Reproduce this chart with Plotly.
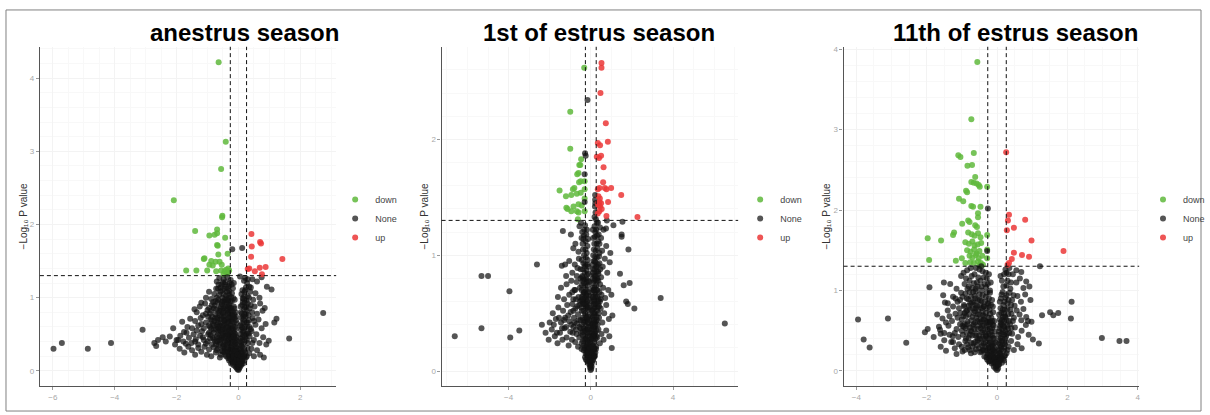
import plotly.graph_objects as go

# ---- thresholds -------------------------------------------------------------
FC_CUT = 0.263     # |log2 fold change| cut-off
P_CUT = 1.301      # -log10(0.05)

# ---- anestrus season --------------------------------------------------------
anestrus_down = [
    (-0.64, 4.22), (-0.41, 3.13), (-0.56, 2.76), (-2.09, 2.33), (-0.52, 2.12), (-0.53, 2.10),
    (-1.40, 1.91), (-0.69, 1.93), (-0.69, 1.88), (-0.94, 1.85), (-0.77, 1.86), (-0.43, 1.82),
    (-0.69, 1.72), (-0.67, 1.71), (-0.35, 1.60), (-0.65, 1.59), (-1.10, 1.54), (-1.12, 1.53),
    (-0.88, 1.50), (-0.94, 1.45), (-0.74, 1.49), (-0.61, 1.49), (-0.54, 1.45), (-0.83, 1.44),
    (-1.01, 1.37), (-0.72, 1.36), (-1.69, 1.37), (-1.36, 1.37), (-0.45, 1.36), (-0.40, 1.38),
    (-0.35, 1.34), (-0.30, 1.37), (-0.38, 1.33), (-0.56, 1.37), (-0.33, 1.40), (-0.48, 1.32),
]
anestrus_up = [
    (0.42, 1.87), (0.70, 1.76), (0.73, 1.74), (0.43, 1.70), (0.41, 1.56), (1.42, 1.53),
    (0.30, 1.39), (0.35, 1.40), (0.53, 1.36), (0.69, 1.41), (0.88, 1.42), (0.76, 1.32),
]
anestrus_none = [
    (-5.98, 0.30), (-5.71, 0.38), (-4.87, 0.30), (-4.12, 0.38), (-3.10, 0.56), (-2.72, 0.38),
    (-2.66, 0.34), (-2.60, 0.42), (-2.45, 0.46), (-2.35, 0.40), (-2.22, 0.47), (-2.11, 0.58),
    (-2.05, 0.36), (-1.95, 0.42), (-1.82, 0.67), (-1.76, 0.53), (-1.70, 0.37), (-1.56, 0.71),
    (-1.42, 0.84), (-1.20, 0.93), (2.74, 0.79), (1.64, 0.44), (0.82, 0.18), (0.98, 0.41),
    (1.16, 0.66), (1.23, 0.71), (1.07, 1.11), (0.92, 1.15), (0.85, 0.86), (-0.20, 1.66),
    (0.12, 1.68),
    (-0.70, 1.22), (-0.62, 1.27), (-0.55, 1.18), (-0.48, 1.25), (-0.42, 1.21), (-0.36, 1.28),
    (-0.30, 1.16), (-0.25, 1.24), (-0.66, 1.12), (-0.15, 1.20), (0.22, 1.27), (0.28, 1.20),
    (0.35, 1.15), (0.45, 1.25), (0.60, 1.22), (0.75, 1.28), (0.05, 1.29), (0.18, 1.23),
    (-1.05, 1.00), (-0.95, 1.08), (-0.88, 0.98), (-0.78, 1.05), (-0.72, 1.12), (-0.65, 0.97),
    (-0.58, 1.08), (-0.52, 1.00), (-0.46, 1.12), (-0.40, 1.03), (-0.35, 0.96), (-0.30, 1.09),
    (-0.24, 1.01), (-0.18, 1.13), (-0.12, 0.97), (0.10, 1.05), (0.16, 0.98), (0.22, 1.10),
    (0.30, 1.02), (0.38, 1.08), (0.48, 0.97), (0.55, 1.06), (0.68, 1.00), (0.40, 1.14),
    (-1.35, 0.80), (-1.25, 0.88), (-1.15, 0.76), (-1.08, 0.92), (-1.00, 0.83), (-0.92, 0.78),
    (-0.86, 0.90), (-0.80, 0.85), (-0.74, 0.77), (-0.68, 0.93), (-0.62, 0.82), (-0.56, 0.88),
    (-0.50, 0.79), (-0.45, 0.94), (-0.40, 0.85), (-0.35, 0.78), (-0.30, 0.90), (-0.25, 0.82),
    (-0.20, 0.76), (-0.15, 0.88), (-0.10, 0.80), (-0.60, 0.76), (-0.48, 0.86), (-0.38, 0.92),
    (-0.33, 0.80), (-0.28, 0.86), (0.08, 0.80), (0.12, 0.90), (0.18, 0.84), (0.24, 0.78),
    (0.30, 0.92), (0.36, 0.85), (0.44, 0.80), (0.52, 0.88), (0.60, 0.78), (0.70, 0.92),
    (0.78, 0.82), (0.20, 0.93),
    (-1.65, 0.60), (-1.50, 0.58), (-1.40, 0.68), (-1.30, 0.62), (-1.22, 0.72), (-1.12, 0.58),
    (-1.05, 0.66), (-0.98, 0.74), (-0.92, 0.60), (-0.86, 0.68), (-0.80, 0.56), (-0.75, 0.72),
    (-0.70, 0.63), (-0.64, 0.58), (-0.58, 0.70), (-0.53, 0.62), (-0.48, 0.74), (-0.43, 0.57),
    (-0.38, 0.66), (-0.33, 0.72), (-0.28, 0.59), (-0.23, 0.68), (-0.18, 0.62), (-0.13, 0.72),
    (-0.09, 0.57), (-0.06, 0.65), (-0.90, 0.70), (-0.66, 0.66), (-0.52, 0.56), (-0.45, 0.68),
    (-0.36, 0.60), (-0.26, 0.73), (-0.16, 0.56), (-0.20, 0.70), (0.06, 0.62), (0.10, 0.72),
    (0.14, 0.58), (0.18, 0.66), (0.23, 0.74), (0.28, 0.60), (0.33, 0.69), (0.40, 0.57),
    (0.46, 0.72), (0.55, 0.63), (0.65, 0.70), (0.75, 0.58), (0.88, 0.64), (0.26, 0.66),
    (-2.00, 0.42), (-1.88, 0.48), (-1.78, 0.40), (-1.68, 0.52), (-1.60, 0.45), (-1.52, 0.38),
    (-1.45, 0.50), (-1.38, 0.43), (-1.30, 0.36), (-1.24, 0.48), (-1.18, 0.54), (-1.12, 0.42),
    (-1.05, 0.37), (-0.98, 0.50), (-0.92, 0.44), (-0.86, 0.36), (-0.80, 0.52), (-0.75, 0.40),
    (-0.70, 0.47), (-0.64, 0.54), (-0.59, 0.38), (-0.54, 0.45), (-0.49, 0.51), (-0.44, 0.40),
    (-0.40, 0.48), (-0.35, 0.36), (-0.30, 0.44), (-0.26, 0.52), (-0.22, 0.38), (-0.18, 0.46),
    (-0.14, 0.40), (-0.10, 0.50), (-0.07, 0.42), (-0.04, 0.36), (-1.00, 0.40), (-0.95, 0.52),
    (-0.83, 0.45), (-0.72, 0.36), (-0.62, 0.46), (-0.56, 0.53), (-0.47, 0.36), (-0.38, 0.53),
    (-0.33, 0.42), (-0.24, 0.45), (-0.16, 0.52), (-0.12, 0.36), (0.04, 0.40), (0.07, 0.50),
    (0.10, 0.38), (0.13, 0.46), (0.17, 0.54), (0.20, 0.42), (0.25, 0.50), (0.30, 0.38),
    (0.36, 0.47), (0.42, 0.54), (0.50, 0.42), (0.58, 0.50), (0.68, 0.38), (0.80, 0.46),
    (0.90, 0.36), (0.15, 0.36),
    (-1.90, 0.30), (-1.75, 0.25), (-1.62, 0.33), (-1.50, 0.28), (-1.40, 0.22), (-1.30, 0.31),
    (-1.20, 0.26), (-1.10, 0.33), (-1.02, 0.22), (-0.95, 0.29), (-0.88, 0.20), (-0.80, 0.32),
    (-0.73, 0.25), (-0.66, 0.30), (-0.60, 0.18), (-0.54, 0.27), (-0.48, 0.33), (-0.43, 0.22),
    (-0.38, 0.29), (-0.33, 0.17), (-0.29, 0.25), (-0.25, 0.32), (-0.21, 0.20), (-0.17, 0.28),
    (-0.14, 0.16), (-0.11, 0.24), (-0.08, 0.31), (-0.05, 0.19), (-0.03, 0.27), (0.02, 0.22),
    (0.04, 0.30), (0.06, 0.16), (0.09, 0.25), (0.12, 0.33), (0.15, 0.20), (0.19, 0.28),
    (0.24, 0.18), (0.29, 0.31), (0.35, 0.24), (0.42, 0.30), (0.50, 0.20), (0.60, 0.28),
    (0.70, 0.22),
    (-0.30, 0.14), (-0.24, 0.10), (-0.20, 0.13), (-0.16, 0.08), (-0.13, 0.12), (-0.10, 0.06),
    (-0.08, 0.10), (-0.06, 0.04), (-0.04, 0.08), (-0.03, 0.02), (-0.02, 0.12), (-0.01, 0.05),
    (0.00, 0.01), (0.01, 0.07), (0.02, 0.03), (0.03, 0.10), (0.05, 0.05), (0.07, 0.12),
    (0.09, 0.08), (0.12, 0.13), (0.15, 0.10), (0.19, 0.14), (0.00, 0.14), (-0.05, 0.13),
    (-0.58, 1.14), (-0.44, 1.18), (-0.34, 1.12), (-0.28, 1.20), (-0.50, 1.21), (0.24, 1.14),
    (0.30, 1.25), (0.20, 1.08), (-0.62, 1.04), (-0.55, 0.94), (-0.48, 1.05), (-0.43, 0.98),
    (-0.37, 1.08), (-0.32, 1.00), (-0.27, 0.94), (-0.21, 1.06), (-0.16, 0.99), (-0.70, 1.00),
    (-0.82, 0.94), (0.13, 1.10), (0.19, 1.02), (0.26, 0.96), (0.34, 1.00), (0.14, 0.94),
    (-0.95, 0.86), (-0.88, 0.82), (-0.77, 0.89), (-0.71, 0.84), (-0.65, 0.79), (-0.59, 0.86),
    (-0.53, 0.91), (-0.47, 0.81), (-0.42, 0.88), (-0.37, 0.83), (-0.32, 0.88), (-0.27, 0.79),
    (-0.23, 0.86), (-0.18, 0.81), (-0.13, 0.85), (-0.08, 0.74), (0.07, 0.88), (0.11, 0.78),
    (0.16, 0.74), (0.21, 0.87), (0.27, 0.82), (0.33, 0.76), (0.40, 0.90), (-1.05, 0.78),
    (-0.85, 0.74), (-0.68, 0.72),
    (-1.20, 0.64), (-0.96, 0.62), (-0.88, 0.57), (-0.82, 0.64), (-0.77, 0.68), (-0.72, 0.57),
    (-0.68, 0.70), (-0.61, 0.62), (-0.56, 0.66), (-0.50, 0.60), (-0.46, 0.63), (-0.41, 0.70),
    (-0.35, 0.65), (-0.31, 0.55), (-0.25, 0.62), (-0.21, 0.58), (-0.15, 0.66), (-0.11, 0.60),
    (-0.08, 0.69), (0.08, 0.56), (0.12, 0.65), (0.16, 0.70), (0.21, 0.60), (0.30, 0.66),
    (0.36, 0.60), (0.50, 0.68), (-1.35, 0.55),
    (-1.40, 0.40), (-1.15, 0.46), (-0.90, 0.49), (-0.78, 0.43), (-0.66, 0.50), (-0.61, 0.42),
    (-0.52, 0.48), (-0.46, 0.44), (-0.42, 0.52), (-0.37, 0.41), (-0.32, 0.49), (-0.28, 0.38),
    (-0.24, 0.50), (-0.20, 0.42), (-0.16, 0.48), (-0.12, 0.44), (-0.09, 0.38), (-0.06, 0.46),
    (0.06, 0.44), (0.09, 0.34), (0.12, 0.41), (0.16, 0.49), (0.22, 0.46), (0.27, 0.42),
    (0.33, 0.51), (0.45, 0.38),
    (-0.70, 0.28), (-0.57, 0.22), (-0.50, 0.26), (-0.45, 0.30), (-0.40, 0.20), (-0.35, 0.26),
    (-0.31, 0.21), (-0.27, 0.29), (-0.23, 0.24), (-0.19, 0.18), (-0.15, 0.23), (-0.12, 0.29),
    (-0.09, 0.18), (-0.07, 0.25), (-0.04, 0.21), (-0.02, 0.17), (0.01, 0.19), (0.03, 0.25),
    (0.05, 0.20), (0.08, 0.29), (0.11, 0.18), (0.14, 0.26), (0.18, 0.21), (0.22, 0.25),
    (0.27, 0.20), (-0.26, 0.16), (-0.18, 0.12), (-0.11, 0.15), (0.06, 0.14), (0.10, 0.10),
    (-0.52, 1.10), (-0.40, 1.15), (-0.30, 1.04), (-0.22, 1.18), (-0.64, 1.18),
    (-0.56, 0.82), (-0.50, 0.95), (-0.44, 0.76), (-0.39, 0.97), (-0.29, 0.73), (-0.22, 0.95),
    (-0.14, 0.77), (-0.74, 0.95),
    (-0.66, 0.60), (-0.59, 0.55), (-0.55, 0.74), (-0.47, 0.69), (-0.40, 0.59), (-0.30, 0.67),
    (-0.24, 0.56), (-0.17, 0.74), (-0.12, 0.51), (-0.80, 0.62),
    (-0.69, 0.40), (-0.63, 0.35), (-0.56, 0.42), (-0.50, 0.34), (-0.44, 0.47), (-0.38, 0.37),
    (-0.34, 0.50), (-0.27, 0.46), (-0.21, 0.34), (-0.14, 0.47), (-0.08, 0.33),
    (-0.44, 0.26), (-0.36, 0.32), (-0.28, 0.22), (-0.22, 0.30), (-0.16, 0.20), (-0.10, 0.27),
    (-0.06, 0.16), (-0.03, 0.22), (0.02, 0.15), (0.04, 0.09), (0.08, 0.20), (0.13, 0.16),
    (0.10, 0.60), (0.15, 0.53), (0.19, 0.77), (0.25, 0.88), (0.14, 0.99), (0.28, 0.52),
]

# ---- 1st of estrus season ---------------------------------------------------
estrus1_down = [
    (-0.32, 2.62), (-1.00, 2.24), (-1.00, 1.92), (-0.47, 1.83), (-0.56, 1.78), (-0.51, 1.78),
    (-0.60, 1.71), (-0.66, 1.70), (-0.49, 1.64), (-0.57, 1.63), (-0.87, 1.57), (-0.80, 1.58),
    (-1.52, 1.56), (-0.30, 1.57), (-1.21, 1.51), (-0.95, 1.52), (-0.68, 1.53), (-0.49, 1.54),
    (-0.30, 1.49), (-1.19, 1.41), (-1.13, 1.40), (-0.84, 1.42), (-0.60, 1.44), (-0.44, 1.43),
    (-0.95, 1.38), (-0.68, 1.38), (-0.60, 1.37), (-0.30, 1.38), (-0.63, 1.31), (-0.30, 1.64),
]
estrus1_up = [
    (0.52, 2.66), (0.52, 2.62), (0.47, 2.40), (0.73, 2.14), (0.34, 1.97), (0.45, 1.95),
    (0.83, 1.98), (0.29, 1.85), (0.40, 1.84), (0.50, 1.86), (0.62, 1.76), (0.60, 1.63),
    (0.42, 1.58), (0.34, 1.57), (0.68, 1.58), (0.76, 1.57), (0.99, 1.58), (1.48, 1.52),
    (0.37, 1.51), (0.44, 1.49), (0.42, 1.46), (0.34, 1.45), (0.50, 1.45), (0.84, 1.46),
    (0.37, 1.43), (0.45, 1.42), (0.42, 1.38), (0.34, 1.36), (0.76, 1.34), (2.27, 1.33),
    (0.53, 1.40),
]
estrus1_none = [
    (-6.62, 0.30), (-5.32, 0.37), (-5.32, 0.82), (-5.00, 0.82), (-3.96, 0.69), (-3.92, 0.29),
    (-3.48, 0.35), (-2.62, 0.92), (-2.38, 0.40), (6.52, 0.41), (3.40, 0.63), (2.12, 0.54),
    (1.83, 1.05), (1.54, 1.29), (1.50, 1.18), (1.50, 1.16), (1.42, 0.84), (1.60, 0.74),
    (1.89, 0.76), (1.72, 0.60), (1.80, 0.58), (1.02, 0.20), (0.78, 1.30), (-1.36, 1.21),
    (-0.97, 1.18), (-1.41, 0.91), (-1.25, 0.92), (-0.16, 2.34), (-0.28, 1.88), (-0.25, 1.86),
    (0.21, 1.52), (0.21, 1.48), (0.22, 1.45), (0.20, 1.42), (0.23, 1.37), (-0.30, 1.70),
    (-0.30, 1.46), (0.18, 1.33), (0.25, 1.31),
    (-0.75, 1.10), (-0.55, 1.25), (-0.45, 1.15), (-0.38, 1.05), (-0.32, 1.22), (-0.25, 1.12),
    (-0.20, 1.02), (-0.60, 1.03), (-0.85, 1.06), (-0.48, 1.28), (0.15, 1.05), (0.22, 1.20),
    (0.28, 1.10), (0.35, 1.28), (0.42, 1.02), (0.50, 1.15), (0.62, 1.22), (0.75, 1.08),
    (0.95, 1.02), (1.10, 1.26), (0.55, 1.04), (0.30, 1.17), (0.18, 1.25), (0.74, 1.23),
    (-1.20, 0.82), (-1.05, 0.95), (-0.90, 0.85), (-0.78, 0.92), (-0.68, 0.82), (-0.58, 0.97),
    (-0.50, 0.88), (-0.42, 0.81), (-0.36, 0.93), (-0.30, 0.85), (-0.24, 0.98), (-0.18, 0.83),
    (-0.12, 0.90), (-0.65, 0.89), (0.10, 0.85), (0.14, 0.95), (0.20, 0.82), (0.25, 0.90),
    (0.30, 0.98), (0.36, 0.86), (0.42, 0.93), (0.50, 0.81), (0.58, 0.90), (0.68, 0.97),
    (0.80, 0.85), (0.92, 0.94), (0.22, 0.99), (0.32, 0.80),
    (-1.60, 0.64), (-1.45, 0.72), (-1.30, 0.62), (-1.18, 0.75), (-1.05, 0.66), (-0.95, 0.78),
    (-0.85, 0.62), (-0.76, 0.70), (-0.68, 0.77), (-0.60, 0.64), (-0.53, 0.72), (-0.46, 0.61),
    (-0.40, 0.78), (-0.34, 0.68), (-0.28, 0.74), (-0.23, 0.62), (-0.18, 0.70), (-0.13, 0.78),
    (-0.09, 0.65), (-0.45, 0.70), (-0.30, 0.63), (-0.20, 0.77), (0.07, 0.68), (0.11, 0.76),
    (0.15, 0.62), (0.19, 0.72), (0.24, 0.66), (0.28, 0.78), (0.33, 0.70), (0.38, 0.62),
    (0.45, 0.75), (0.52, 0.66), (0.60, 0.72), (0.70, 0.63), (0.85, 0.70), (1.00, 0.66),
    (0.22, 0.79), (0.14, 0.70),
    (-2.00, 0.42), (-1.85, 0.50), (-1.70, 0.45), (-1.58, 0.55), (-1.45, 0.42), (-1.35, 0.52),
    (-1.25, 0.46), (-1.15, 0.57), (-1.05, 0.43), (-0.98, 0.51), (-0.90, 0.58), (-0.82, 0.46),
    (-0.75, 0.54), (-0.68, 0.41), (-0.62, 0.49), (-0.56, 0.57), (-0.50, 0.44), (-0.44, 0.52),
    (-0.38, 0.59), (-0.33, 0.42), (-0.28, 0.50), (-0.23, 0.56), (-0.18, 0.45), (-0.14, 0.53),
    (-0.10, 0.41), (-0.07, 0.49), (-0.40, 0.46), (-0.26, 0.43), (-0.20, 0.58), (-0.60, 0.44),
    (-0.85, 0.52), (0.05, 0.45), (0.08, 0.53), (0.11, 0.41), (0.14, 0.58), (0.17, 0.48),
    (0.21, 0.55), (0.25, 0.43), (0.30, 0.52), (0.35, 0.58), (0.40, 0.46), (0.48, 0.54),
    (0.56, 0.42), (0.65, 0.50), (0.75, 0.57), (0.88, 0.45), (1.05, 0.48), (0.19, 0.42),
    (0.12, 0.50),
    (-2.20, 0.33), (-2.05, 0.27), (-1.90, 0.36), (-1.75, 0.30), (-1.62, 0.24), (-1.50, 0.33),
    (-1.38, 0.27), (-1.28, 0.37), (-1.18, 0.29), (-1.08, 0.22), (-1.00, 0.34), (-0.92, 0.27),
    (-0.84, 0.38), (-0.76, 0.25), (-0.69, 0.32), (-0.62, 0.21), (-0.56, 0.29), (-0.50, 0.37),
    (-0.45, 0.24), (-0.40, 0.31), (-0.35, 0.22), (-0.30, 0.35), (-0.26, 0.28), (-0.22, 0.21),
    (-0.18, 0.33), (-0.14, 0.26), (-0.11, 0.38), (-0.08, 0.23), (-0.05, 0.31), (-0.03, 0.25),
    (0.03, 0.28), (0.05, 0.36), (0.08, 0.22), (0.11, 0.31), (0.14, 0.38), (0.17, 0.25),
    (0.21, 0.33), (0.26, 0.21), (0.31, 0.29), (0.37, 0.36), (0.44, 0.24), (0.52, 0.32),
    (0.62, 0.27), (0.75, 0.35), (0.90, 0.30),
    (-0.35, 0.18), (-0.28, 0.12), (-0.22, 0.17), (-0.18, 0.09), (-0.14, 0.14), (-0.11, 0.19),
    (-0.08, 0.06), (-0.06, 0.12), (-0.04, 0.03), (-0.03, 0.16), (-0.02, 0.08), (-0.01, 0.01),
    (0.00, 0.05), (0.01, 0.11), (0.02, 0.02), (0.03, 0.15), (0.05, 0.07), (0.07, 0.13),
    (0.09, 0.18), (0.12, 0.10), (0.15, 0.16), (0.20, 0.13), (0.25, 0.19), (-0.45, 0.19),
    (0.00, 0.19),
    (-0.42, 1.20), (-0.36, 1.14), (-0.28, 1.26), (-0.22, 1.18), (-0.17, 1.08), (0.12, 1.15),
    (0.17, 1.10), (0.26, 1.22), (0.32, 1.06), (0.38, 1.18), (0.45, 1.24),
    (-0.44, 0.96), (-0.39, 0.88), (-0.33, 1.00), (-0.27, 0.92), (-0.21, 0.87), (-0.15, 0.96),
    (0.09, 0.92), (0.12, 1.00), (0.17, 0.88), (0.23, 0.94), (0.28, 0.86), (0.34, 0.92),
    (0.40, 0.99), (0.46, 0.88),
    (-0.50, 0.80), (-0.43, 0.74), (-0.37, 0.66), (-0.31, 0.79), (-0.25, 0.70), (-0.20, 0.65),
    (-0.15, 0.74), (-0.11, 0.68), (0.09, 0.72), (0.12, 0.64), (0.16, 0.78), (0.21, 0.68),
    (0.26, 0.74), (0.31, 0.64), (0.36, 0.78), (0.42, 0.68), (0.48, 0.62),
    (-0.52, 0.60), (-0.46, 0.55), (-0.41, 0.62), (-0.36, 0.52), (-0.31, 0.58), (-0.26, 0.48),
    (-0.22, 0.54), (-0.17, 0.60), (-0.12, 0.47), (-0.09, 0.57), (0.07, 0.60), (0.10, 0.47),
    (0.13, 0.54), (0.16, 0.60), (0.20, 0.50), (0.24, 0.58), (0.28, 0.47), (0.33, 0.55),
    (0.38, 0.50), (0.44, 0.60),
    (-0.55, 0.38), (-0.48, 0.33), (-0.43, 0.40), (-0.38, 0.26), (-0.33, 0.37), (-0.28, 0.30),
    (-0.24, 0.39), (-0.20, 0.27), (-0.16, 0.36), (-0.12, 0.30), (-0.09, 0.36), (-0.06, 0.27),
    (0.04, 0.33), (0.07, 0.40), (0.10, 0.27), (0.13, 0.35), (0.16, 0.30), (0.19, 0.38),
    (0.23, 0.28), (0.28, 0.35), (0.33, 0.40),
    (-0.30, 0.20), (-0.25, 0.15), (-0.20, 0.22), (-0.16, 0.17), (-0.12, 0.21), (-0.09, 0.13),
    (-0.06, 0.19), (-0.04, 0.10), (-0.02, 0.14), (0.01, 0.16), (0.03, 0.09), (0.05, 0.21),
    (0.08, 0.16), (0.11, 0.22), (0.14, 0.12), (0.18, 0.20), (0.22, 0.16),
    (-1.80, 0.40), (-1.65, 0.33), (-1.55, 0.46), (-1.40, 0.37), (-1.30, 0.44), (-1.20, 0.38),
    (-1.10, 0.48), (-0.95, 0.40), (-0.88, 0.33), (-0.80, 0.42), (-0.72, 0.36), (-0.66, 0.56),
    (-0.72, 0.62), (-0.80, 0.70), (-0.90, 0.68),
    (-0.40, 1.10), (-0.33, 1.17), (-0.26, 1.05), (-0.19, 1.22), (-0.13, 1.14), (0.10, 1.22),
    (0.20, 1.16), (0.24, 1.04), (0.29, 1.28), (0.36, 1.12), (0.42, 1.10),
    (-0.41, 0.82), (-0.34, 0.76), (-0.28, 0.90), (-0.23, 0.80), (-0.17, 0.92), (-0.12, 0.84),
    (-0.08, 0.77), (0.08, 0.80), (0.11, 0.88), (0.14, 0.83), (0.19, 0.95), (0.25, 0.82),
    (0.30, 0.90), (0.37, 0.84),
    (-0.44, 0.64), (-0.38, 0.58), (-0.32, 0.68), (-0.27, 0.58), (-0.22, 0.66), (-0.16, 0.55),
    (-0.10, 0.62), (-0.06, 0.55), (0.06, 0.52), (0.09, 0.64), (0.13, 0.70), (0.18, 0.58),
    (0.23, 0.64), (0.29, 0.70), (0.34, 0.60), (0.40, 0.56),
    (-0.40, 0.34), (-0.35, 0.44), (-0.30, 0.27), (-0.25, 0.35), (-0.21, 0.46), (-0.17, 0.24),
    (-0.14, 0.42), (-0.10, 0.33), (-0.07, 0.44), (0.05, 0.40), (0.08, 0.30), (0.12, 0.38),
    (0.15, 0.44), (0.18, 0.32), (0.22, 0.40), (0.26, 0.30), (0.30, 0.44),
    (-0.24, 0.10), (-0.18, 0.14), (-0.13, 0.08), (-0.10, 0.16), (-0.07, 0.09), (-0.05, 0.20),
    (-0.02, 0.05), (0.02, 0.12), (0.04, 0.04), (0.06, 0.16), (0.09, 0.09), (0.13, 0.19),
    (0.17, 0.13),
]

# ---- 11th of estrus season --------------------------------------------------
estrus11_down = [
    (-0.56, 3.84), (-0.73, 3.13), (-1.10, 2.68), (-1.04, 2.66), (-0.66, 2.71), (-0.84, 2.55),
    (-0.71, 2.56), (-0.62, 2.41), (-0.73, 2.35), (-0.66, 2.34), (-0.58, 2.33), (-0.52, 2.31),
    (-0.49, 2.29), (-0.88, 2.24), (-0.85, 2.22), (-0.28, 2.29), (-1.08, 2.14), (-0.96, 2.11),
    (-0.73, 2.05), (-0.68, 2.04), (-0.47, 2.04), (-0.54, 1.96), (-0.99, 1.83), (-0.82, 1.87),
    (-0.78, 1.85), (-0.54, 1.91), (-0.62, 1.81), (-0.57, 1.79), (-1.22, 1.72), (-1.25, 1.69),
    (-0.82, 1.72), (-0.72, 1.70), (-0.64, 1.68), (-0.54, 1.71), (-0.47, 1.66), (-0.28, 1.69),
    (-1.97, 1.65), (-1.59, 1.62), (-0.90, 1.60), (-0.80, 1.58), (-0.70, 1.61), (-0.64, 1.56),
    (-0.55, 1.57), (-0.45, 1.59), (-0.85, 1.50), (-0.75, 1.48), (-0.65, 1.51), (-0.58, 1.46),
    (-0.50, 1.49), (-0.28, 1.51), (-0.78, 1.43), (-0.70, 1.41), (-0.60, 1.44), (-0.52, 1.40),
    (-0.42, 1.43), (-1.93, 1.38), (-1.17, 1.37), (-1.00, 1.40), (-0.76, 1.35), (-0.66, 1.34),
    (-0.54, 1.36), (-0.46, 1.34), (-0.28, 1.40), (-0.50, 1.31), (-0.40, 1.32), (-0.90, 1.34),
]
estrus11_up = [
    (0.26, 2.72), (0.34, 1.94), (0.31, 1.87), (0.80, 1.88), (0.48, 1.78), (0.28, 1.75),
    (0.98, 1.62), (1.89, 1.49), (0.48, 1.47), (0.71, 1.44), (0.91, 1.42), (0.42, 1.39),
    (0.34, 1.34), (0.30, 1.32),
]
estrus11_none = [
    (-3.95, 0.64), (-3.79, 0.39), (-3.62, 0.29), (-3.10, 0.65), (-2.58, 0.35), (-1.97, 0.52),
    (-1.62, 0.51), (-1.60, 0.46), (-1.92, 1.04), (-1.53, 0.94), (-1.48, 0.85), (-1.51, 1.10),
    (-1.33, 1.08), (-1.15, 0.21), (2.10, 0.65), (2.12, 0.86), (1.51, 0.73), (1.60, 0.69),
    (1.74, 0.72), (1.28, 0.69), (2.98, 0.41), (3.48, 0.37), (3.68, 0.37), (1.19, 0.34),
    (1.02, 0.39), (0.83, 0.67), (0.88, 0.62), (0.69, 0.63), (0.83, 1.11), (1.22, 1.30),
    (0.69, 1.23), (0.55, 1.25), (-0.26, 2.02), (-0.28, 1.49), (0.27, 1.22), (-0.60, 1.28),
    (-0.45, 1.30),
    (-1.15, 1.02), (-1.02, 1.18), (-0.92, 1.08), (-0.85, 1.25), (-0.78, 1.12), (-0.70, 1.03),
    (-0.64, 1.20), (-0.57, 1.10), (-0.50, 1.26), (-0.44, 1.05), (-0.38, 1.16), (-0.32, 1.22),
    (-0.26, 1.08), (-0.20, 1.00), (-0.75, 1.28), (-0.95, 1.22), (0.10, 1.18), (0.18, 1.05),
    (0.24, 1.26), (0.30, 1.12), (0.38, 1.02), (0.45, 1.20), (0.55, 1.10), (0.65, 1.15),
    (0.75, 1.03), (0.92, 1.05), (0.35, 1.28),
    (-1.40, 0.84), (-1.25, 0.92), (-1.12, 0.86), (-1.02, 0.97), (-0.94, 0.82), (-0.86, 0.90),
    (-0.78, 0.98), (-0.71, 0.85), (-0.64, 0.93), (-0.57, 0.81), (-0.50, 0.95), (-0.44, 0.87),
    (-0.38, 0.80), (-0.32, 0.92), (-0.26, 0.84), (-0.20, 0.97), (-0.14, 0.88), (-0.60, 0.99),
    (-0.80, 0.81), (0.08, 0.86), (0.13, 0.95), (0.18, 0.82), (0.24, 0.91), (0.30, 0.84),
    (0.36, 0.97), (0.43, 0.88), (0.50, 0.81), (0.58, 0.93), (0.68, 0.86), (0.80, 0.95),
    (0.95, 0.88),
    (-1.70, 0.70), (-1.55, 0.65), (-1.40, 0.75), (-1.28, 0.62), (-1.18, 0.71), (-1.08, 0.78),
    (-1.00, 0.64), (-0.92, 0.72), (-0.84, 0.61), (-0.77, 0.77), (-0.70, 0.67), (-0.63, 0.74),
    (-0.56, 0.62), (-0.50, 0.70), (-0.44, 0.78), (-0.38, 0.64), (-0.32, 0.72), (-0.26, 0.61),
    (-0.21, 0.76), (-0.16, 0.66), (-0.11, 0.73), (-0.08, 0.62), (-0.88, 0.68), (-0.60, 0.78),
    (-0.40, 0.69), (0.06, 0.70), (0.10, 0.78), (0.14, 0.63), (0.19, 0.72), (0.24, 0.67),
    (0.29, 0.77), (0.35, 0.62), (0.41, 0.71), (0.48, 0.66), (0.56, 0.75), (0.64, 0.70),
    (0.75, 0.77), (0.98, 0.61), (0.20, 0.61),
    (-2.05, 0.48), (-1.80, 0.42), (-1.65, 0.55), (-1.50, 0.47), (-1.38, 0.56), (-1.26, 0.43),
    (-1.15, 0.52), (-1.05, 0.58), (-0.97, 0.45), (-0.89, 0.53), (-0.81, 0.41), (-0.74, 0.50),
    (-0.67, 0.58), (-0.61, 0.44), (-0.55, 0.52), (-0.49, 0.40), (-0.43, 0.48), (-0.37, 0.56),
    (-0.32, 0.43), (-0.27, 0.51), (-0.22, 0.58), (-0.18, 0.45), (-0.14, 0.53), (-0.10, 0.41),
    (-0.07, 0.49), (-0.92, 0.58), (-0.70, 0.44), (-0.40, 0.42), (0.04, 0.45), (0.07, 0.53),
    (0.10, 0.41), (0.13, 0.58), (0.17, 0.48), (0.21, 0.55), (0.26, 0.43), (0.31, 0.52),
    (0.37, 0.58), (0.43, 0.46), (0.51, 0.54), (0.60, 0.42), (0.70, 0.50), (0.82, 0.57),
    (0.90, 0.45),
    (-1.60, 0.30), (-1.45, 0.25), (-1.30, 0.36), (-1.20, 0.28), (-1.08, 0.33), (-0.98, 0.24),
    (-0.90, 0.37), (-0.82, 0.29), (-0.74, 0.22), (-0.67, 0.34), (-0.60, 0.27), (-0.54, 0.38),
    (-0.48, 0.23), (-0.42, 0.31), (-0.37, 0.25), (-0.32, 0.36), (-0.27, 0.21), (-0.23, 0.29),
    (-0.19, 0.35), (-0.15, 0.24), (-0.12, 0.31), (-0.09, 0.22), (-0.06, 0.28), (-0.04, 0.35),
    (0.03, 0.27), (0.05, 0.34), (0.08, 0.22), (0.11, 0.30), (0.14, 0.37), (0.18, 0.25),
    (0.22, 0.33), (0.27, 0.22), (0.33, 0.30), (0.40, 0.37), (0.48, 0.26), (0.58, 0.33),
    (0.70, 0.28),
    (-0.30, 0.17), (-0.24, 0.12), (-0.19, 0.18), (-0.15, 0.09), (-0.12, 0.14), (-0.09, 0.05),
    (-0.07, 0.11), (-0.05, 0.17), (-0.04, 0.03), (-0.02, 0.09), (-0.01, 0.14), (0.00, 0.01),
    (0.01, 0.06), (0.02, 0.12), (0.03, 0.03), (0.04, 0.17), (0.06, 0.08), (0.08, 0.13),
    (0.11, 0.19), (0.14, 0.10), (0.18, 0.15), (0.23, 0.19),
    (-0.88, 1.15), (-0.80, 1.05), (-0.72, 1.18), (-0.66, 1.09), (-0.60, 1.02), (-0.53, 1.16),
    (-0.47, 1.12), (-0.41, 1.24), (-0.35, 1.08), (-0.29, 1.15), (-0.23, 1.20), (0.14, 1.12),
    (0.20, 1.20), (0.27, 1.06), (0.33, 1.20), (0.40, 1.10),
    (-1.05, 0.88), (-0.98, 0.92), (-0.90, 0.96), (-0.82, 0.89), (-0.74, 0.92), (-0.67, 0.86),
    (-0.61, 0.90), (-0.54, 0.88), (-0.47, 0.82), (-0.41, 0.94), (-0.35, 0.86), (-0.29, 0.97),
    (-0.23, 0.90), (-0.17, 0.82), (0.11, 0.90), (0.16, 0.98), (0.21, 0.86), (0.27, 0.94),
    (0.33, 0.88), (0.40, 0.82), (0.47, 0.94),
    (-1.12, 0.66), (-1.04, 0.72), (-0.96, 0.68), (-0.88, 0.74), (-0.80, 0.70), (-0.73, 0.63),
    (-0.66, 0.72), (-0.59, 0.66), (-0.53, 0.76), (-0.47, 0.64), (-0.41, 0.74), (-0.35, 0.68),
    (-0.29, 0.78), (-0.24, 0.66), (-0.19, 0.71), (-0.14, 0.62), (0.08, 0.64), (0.12, 0.72),
    (0.17, 0.67), (0.22, 0.76), (0.27, 0.63), (0.32, 0.70), (0.38, 0.76), (0.45, 0.62),
    (-1.20, 0.47), (-1.10, 0.42), (-1.00, 0.50), (-0.94, 0.55), (-0.86, 0.47), (-0.78, 0.54),
    (-0.72, 0.49), (-0.64, 0.52), (-0.58, 0.46), (-0.52, 0.56), (-0.46, 0.53), (-0.40, 0.50),
    (-0.34, 0.48), (-0.29, 0.55), (-0.24, 0.46), (-0.20, 0.52), (-0.16, 0.49), (-0.12, 0.57),
    (0.06, 0.49), (0.09, 0.56), (0.12, 0.46), (0.15, 0.52), (0.19, 0.45), (0.24, 0.50),
    (0.29, 0.56), (0.35, 0.47), (0.41, 0.53),
    (-1.00, 0.30), (-0.92, 0.26), (-0.85, 0.33), (-0.78, 0.26), (-0.70, 0.30), (-0.64, 0.23),
    (-0.57, 0.32), (-0.51, 0.28), (-0.45, 0.35), (-0.40, 0.26), (-0.34, 0.30), (-0.29, 0.25),
    (-0.25, 0.33), (-0.21, 0.24), (-0.17, 0.30), (-0.13, 0.27), (-0.10, 0.34), (-0.07, 0.24),
    (0.05, 0.25), (0.09, 0.32), (0.13, 0.27), (0.16, 0.33), (0.20, 0.29), (0.25, 0.36),
    (0.30, 0.26),
    (-0.36, 0.18), (-0.28, 0.14), (-0.22, 0.16), (-0.17, 0.13), (-0.13, 0.18), (-0.10, 0.10),
    (-0.06, 0.14), (-0.03, 0.06), (-0.01, 0.10), (0.02, 0.16), (0.05, 0.11), (0.07, 0.17),
    (0.10, 0.14), (0.16, 0.18), (0.20, 0.13),
    (-1.45, 0.60), (-1.35, 0.68), (-1.25, 0.80), (-1.18, 0.90), (-1.35, 0.45), (-1.50, 0.38),
    (-1.25, 0.36),
    (-0.84, 1.02), (-0.68, 0.98), (-0.55, 1.05), (-0.43, 1.00), (-0.31, 1.04), (-0.18, 1.10),
    (-0.93, 0.80), (-0.85, 0.75), (-0.76, 0.84), (-0.69, 0.78), (-0.62, 0.82), (-0.55, 0.70),
    (-0.49, 0.88), (-0.43, 0.62), (-0.37, 0.80), (-0.31, 0.62), (-0.24, 0.83), (-0.18, 0.60),
    (-0.12, 0.80),
    (-0.98, 0.56), (-0.84, 0.58), (-0.77, 0.45), (-0.68, 0.56), (-0.62, 0.60), (-0.56, 0.40),
    (-0.48, 0.60), (-0.42, 0.56), (-0.36, 0.40), (-0.30, 0.60), (-0.25, 0.40), (-0.19, 0.60),
    (-0.13, 0.44), (-0.09, 0.56),
    (-0.88, 0.40), (-0.74, 0.35), (-0.62, 0.36), (-0.50, 0.44), (-0.44, 0.24), (-0.38, 0.34),
    (-0.31, 0.44), (-0.26, 0.28), (-0.20, 0.40), (-0.15, 0.34), (-0.11, 0.25), (-0.08, 0.40),
    (0.07, 0.38), (0.10, 0.60), (0.15, 0.40), (0.18, 0.56), (0.23, 0.40), (0.28, 0.46),
    (0.16, 0.76), (0.22, 0.68),
    (-0.25, 0.20), (-0.20, 0.12), (-0.15, 0.20), (-0.08, 0.17), (-0.04, 0.11), (0.01, 0.20),
    (0.04, 0.08), (0.08, 0.22), (0.12, 0.16),
]

# ---- panel set-up ------------------------------------------------------------
titles = ["anestrus season", "1st of estrus season", "11th of estrus season"]
groups = ["down", "None", "up"]
colors = {"down": "rgba(95,185,60,0.85)", "None": "rgba(20,20,20,0.72)", "up": "rgba(235,55,55,0.85)"}
x_ticks = [[-6, -4, -2, 0, 2], [-4, 0, 4], [-4, -2, 0, 2, 4]]
y_ticks = [[0, 1, 2, 3, 4], [0, 1, 2], [0, 1, 2, 3, 4]]
x_ranges = [[-6.42, 3.16], [-7.26, 7.17], [-4.36, 4.04]]
y_ranges = [[-0.21, 4.43], [-0.13, 2.80], [-0.19, 4.03]]
panels = [
    {"down": anestrus_down, "None": anestrus_none, "up": anestrus_up},
    {"down": estrus1_down, "None": estrus1_none, "up": estrus1_up},
    {"down": estrus11_down, "None": estrus11_none, "up": estrus11_up},
]

W, H = 1210, 415
px_x = [(40, 337), (442.7, 740), (845.7, 1142)]
px_top, px_bottom = 45, 386
title_cx = [245, 600, 1018.5]
legend_px = [336, 742, 1146]

fig = go.Figure()
layout = dict(
    width=W, height=H, margin=dict(l=0, r=0, t=0, b=0),
    paper_bgcolor="white", plot_bgcolor="white",
    font=dict(family="Liberation Sans, Arial, sans-serif"),
    shapes=[], annotations=[],
)

for i, data in enumerate(panels):
    n = "" if i == 0 else str(i + 1)
    leg = "legend" + n
    for g in groups:
        pts = data[g]
        fig.add_trace(go.Scatter(
            x=[p[0] for p in pts], y=[p[1] for p in pts],
            mode="markers", name=g, legend=leg,
            xaxis="x" + n, yaxis="y" + n,
            marker=dict(size=6, color=colors[g], line=dict(width=0)),
            showlegend=True,
        ))
    axis_common = dict(
        showline=True, linecolor="#555", linewidth=1.3, mirror=False,
        ticks="outside", ticklen=3, tickcolor="#999", tickwidth=1,
        tickfont=dict(size=8, color="#a8a8a8"),
        showgrid=True, gridcolor="#f3f3f3", gridwidth=1,
        minor=dict(showgrid=True, gridcolor="#f8f8f8"),
        zeroline=False,
    )
    layout["xaxis" + n] = dict(
        axis_common, domain=[px_x[i][0] / W, px_x[i][1] / W],
        range=x_ranges[i], tickvals=x_ticks[i], anchor="y" + n,
    )
    layout["yaxis" + n] = dict(
        axis_common, domain=[1 - px_bottom / H, 1 - px_top / H],
        range=y_ranges[i], tickvals=y_ticks[i], anchor="x" + n,
        title=dict(text="\u2212Log\u2081\u2080 P value", font=dict(size=10, color="#333"), standoff=0),
    )
    layout[leg] = dict(
        x=legend_px[i] / W, y=1 - 184 / H, xanchor="left", yanchor="top",
        font=dict(size=9, color="#444"), bgcolor="rgba(0,0,0,0)",
    )
    # threshold lines
    xr, yr = "x" + n, "y" + n
    for xv in (-FC_CUT, FC_CUT):
        layout["shapes"].append(dict(
            type="line", xref=xr, yref=yr + " domain", x0=xv, x1=xv, y0=0, y1=1,
            line=dict(color="#111", width=1, dash="4px,3px"), layer="above",
        ))
    layout["shapes"].append(dict(
        type="line", xref=xr + " domain", yref=yr, x0=0, x1=1, y0=P_CUT, y1=P_CUT,
        line=dict(color="#111", width=1, dash="4px,3px"), layer="above",
    ))
    layout["annotations"].append(dict(
        text="<b>" + titles[i] + "</b>", xref="paper", yref="paper",
        x=title_cx[i] / W, y=1 - 31 / H, xanchor="center", yanchor="middle",
        showarrow=False, font=dict(size=24, color="black", family="Liberation Sans, Arial, sans-serif"),
    ))

# page frame
layout["shapes"].append(dict(
    type="rect", xref="paper", yref="paper",
    x0=6 / W, x1=1204 / W, y0=1 - 411 / H, y1=1 - 8 / H,
    line=dict(color="#808080", width=1), fillcolor="rgba(0,0,0,0)", layer="below",
))

fig.update_layout(**layout)
fig.write_html("out.html")
